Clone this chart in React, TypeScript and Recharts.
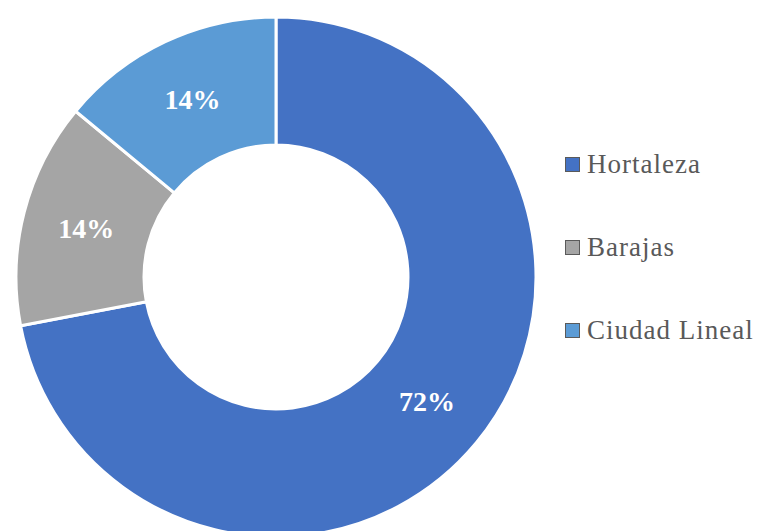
import { PieChart, Pie, Cell } from "recharts";

const districts = ["Hortaleza", "Barajas", "Ciudad Lineal"];
const shares = [72, 14, 14];
const colors = ["#4472C4", "#A5A5A5", "#5B9BD5"];

const data = districts.map((name, i) => ({ name, value: shares[i] }));
const RAD = Math.PI / 180;
const SERIF = "'Liberation Serif', 'Times New Roman', 'DejaVu Serif', serif";

function SliceLabel(props: any) {
  const { cx, cy, midAngle, innerRadius, outerRadius, percent } = props;
  const r = (innerRadius + outerRadius) / 2;
  const x = cx + r * Math.cos(-midAngle * RAD);
  const y = cy + r * Math.sin(-midAngle * RAD);
  return (
    <text x={x} y={y} fill="#fff" textAnchor="middle" dominantBaseline="central"
      style={{ fontFamily: SERIF, fontWeight: "bold", fontSize: 28 }}>
      {Math.round(percent * 100)}%
    </text>
  );
}

export default function App() {
  return (
    <div style={{ position: "absolute", left: 0, top: 0, width: 759, height: 531, background: "#fff" }}>
      <PieChart width={759} height={531}>
        <Pie data={data} dataKey="value" nameKey="name" cx={271} cy={272}
          innerRadius={132} outerRadius={260} startAngle={90} endAngle={-270}
          stroke="#fff" strokeWidth={3} labelLine={false} label={SliceLabel}
          isAnimationActive={false}>
          {data.map((d, i) => <Cell key={d.name} fill={colors[i]} />)}
        </Pie>
      </PieChart>
      <div style={{ position: "absolute", left: 565, top: 123, fontFamily: SERIF, fontSize: 27, color: "#595959", letterSpacing: 1 }}>
        {districts.map((d, i) => (
          <div key={d} style={{ display: "flex", alignItems: "center", height: 83 }}>
            <span style={{ width: 15, height: 15, background: colors[i], border: "1px solid #5a5a5a", marginRight: 7, boxSizing: "border-box" }} />
            {d}
          </div>
        ))}
      </div>
    </div>
  );
}
